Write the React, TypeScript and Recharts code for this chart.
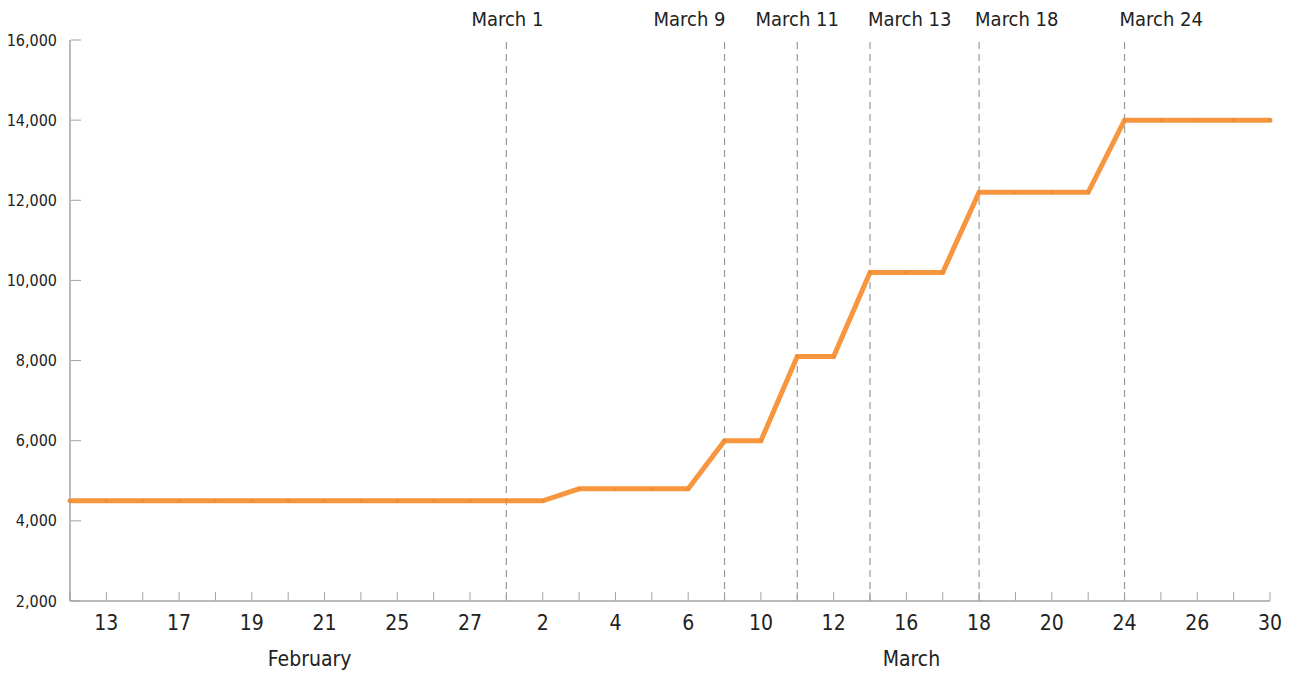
import { LineChart, Line, XAxis, YAxis, ReferenceLine } from "recharts";

const FONT = "'DejaVu Sans Condensed', 'DejaVu Sans', sans-serif";
const AXIS = "#a3a3a3";
const TEXT = "#222";
const ORANGE = "#f7963f";

// trading days shown on the axis
const tradingDays = [
  "Feb 12", "Feb 13", "Feb 14", "Feb 17", "Feb 18", "Feb 19", "Feb 20",
  "Feb 21", "Feb 24", "Feb 25", "Feb 26", "Feb 27", "Feb 28",
  "Mar 2", "Mar 3", "Mar 4", "Mar 5", "Mar 6", "Mar 9", "Mar 10",
  "Mar 11", "Mar 12", "Mar 13", "Mar 16", "Mar 17", "Mar 18", "Mar 19",
  "Mar 20", "Mar 23", "Mar 24", "Mar 25", "Mar 26", "Mar 27", "Mar 30",
];

const values = [
  4500, 4500, 4500, 4500, 4500, 4500, 4500, 4500, 4500, 4500, 4500, 4500, 4500, 4500,
  4800, 4800, 4800, 4800,
  6000, 6000,
  8100, 8100,
  10200, 10200, 10200,
  12200, 12200, 12200, 12200,
  14000, 14000, 14000, 14000, 14000,
];

const yTicks = [2000, 4000, 6000, 8000, 10000, 12000, 14000, 16000];

const eventLabels = ["March 1", "March 9", "March 11", "March 13", "March 18", "March 24"];
const eventDays = ["Feb 28", "Mar 9", "Mar 11", "Mar 13", "Mar 18", "Mar 24"];

// month captions placed along a numeric copy of the day index
const monthNames = ["February", "March"];
const monthPositions = [6.59, 23.14];

// how each event caption sits against its line
const eventAnchor: Record<string, { anchor: string; dx: number }> = {
  "March 1": { anchor: "middle", dx: 1 },
  "March 9": { anchor: "end", dx: 1 },
  "March 11": { anchor: "middle", dx: 0 },
  "March 13": { anchor: "start", dx: -2 },
  "March 18": { anchor: "start", dx: -4 },
  "March 24": { anchor: "start", dx: -5 },
};

const data = tradingDays.map((day, i) => ({ day, value: values[i] }));

function DayTick({ x, y, payload }: any) {
  const idx = tradingDays.indexOf(payload.value);
  return (
    <g>
      <line x1={x} x2={x} y1={y} y2={y - 9} stroke={AXIS} strokeWidth={1} />
      {idx % 2 === 1 && (
        <text x={x} y={y + 29} textAnchor="middle" fill={TEXT} fontSize={21} fontFamily={FONT}>
          {payload.value.split(" ")[1]}
        </text>
      )}
    </g>
  );
}

function MonthTick({ x, y, payload }: any) {
  const i = monthPositions.indexOf(payload.value);
  return (
    <text x={x} y={y + 29} textAnchor="middle" fill={TEXT} fontSize={21} fontFamily={FONT}>
      {monthNames[i]}
    </text>
  );
}

function ValueTick({ x, y, payload }: any) {
  return (
    <g>
      <line x1={x + 1} x2={x + 11} y1={y} y2={y} stroke={AXIS} strokeWidth={1} />
      <text x={x - 13} y={y} dy="0.35em" textAnchor="end" fill={TEXT} fontSize={16} fontFamily={FONT}>
        {payload.value.toLocaleString("en-US")}
      </text>
    </g>
  );
}

function EventLabel({ viewBox, text }: any) {
  const a = eventAnchor[text];
  return (
    <text
      x={viewBox.x + a.dx}
      y={viewBox.y - 14}
      textAnchor={a.anchor}
      fill={TEXT}
      fontSize={20}
      fontFamily={FONT}
    >
      {text}
    </text>
  );
}

export default function App() {
  return (
    <div style={{ width: 1286, height: 666, background: "#fff" }}>
      <LineChart
        width={1286}
        height={666}
        data={data}
        margin={{ top: 32, right: 24, left: 0, bottom: 0 }}
      >
        <XAxis
          dataKey="day"
          interval={0}
          height={36}
          tickSize={0}
          tickMargin={0}
          tickLine={false}
          axisLine={{ stroke: AXIS, strokeWidth: 1.5 }}
          tick={<DayTick />}
        />
        <XAxis
          xAxisId="month"
          type="number"
          domain={[0, tradingDays.length - 1]}
          allowDataOverflow
          ticks={monthPositions}
          interval={0}
          height={37}
          tickSize={0}
          tickMargin={0}
          tickLine={false}
          axisLine={false}
          tick={<MonthTick />}
        />
        <YAxis
          width={62}
          domain={[2000, 16000]}
          ticks={yTicks}
          interval={0}
          tickSize={0}
          tickMargin={0}
          tickLine={false}
          axisLine={{ stroke: AXIS, strokeWidth: 1.5 }}
          tick={<ValueTick />}
        />
        {eventDays.map((d, i) => (
          <ReferenceLine
            key={eventLabels[i]}
            x={d}
            stroke="#9a9a9a"
            strokeWidth={1.2}
            strokeDasharray="7 5"
            label={<EventLabel text={eventLabels[i]} />}
          />
        ))}
        <Line
          dataKey="value"
          stroke={ORANGE}
          strokeWidth={5}
          strokeLinecap="round"
          dot={{ r: 1.8, fill: "#ee8c38", stroke: "none" }}
          activeDot={false}
          isAnimationActive={false}
        />
      </LineChart>
    </div>
  );
}
